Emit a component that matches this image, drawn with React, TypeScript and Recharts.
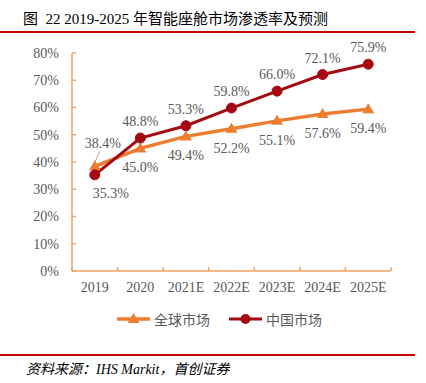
import { LineChart, Line, XAxis, YAxis, LabelList } from 'recharts'

// categories and values
const years = ['2019', '2020', '2021E', '2022E', '2023E', '2024E', '2025E']
const globalRate = [38.4, 45.0, 49.4, 52.2, 55.1, 57.6, 59.4]
const chinaRate = [35.3, 48.8, 53.3, 59.8, 66.0, 72.1, 75.9]
const yTicks = [0, 10, 20, 30, 40, 50, 60, 70, 80]

const COLORS = {
  global: '#ED7D31',
  china: '#A50A12',
  axis: '#F0A46A',
  text: '#595959',
  rule: '#C00000'
}

const FONT = "'Liberation Serif', 'Noto Sans CJK SC', serif"
const BAND = (391 - 72) / years.length

const data = years.map((year, i) => ({
  year,
  global: globalRate[i],
  china: chinaRate[i]
}))

const Triangle = (props: any) => {
  const { cx, cy } = props
  if (cx == null || cy == null) return null
  return (
    <path
      d={`M${cx},${cy - 6} L${cx + 6},${cy + 4} L${cx - 6},${cy + 4} Z`}
      fill={COLORS.global}
    />
  )
}

// category label in the middle of the band, tick marks on band edges
const XTick = (props: any) => {
  const { x, y, payload, index } = props
  const half = BAND / 2
  return (
    <g>
      <line x1={x - half} y1={y} x2={x - half} y2={y - 4} stroke={COLORS.axis} strokeWidth={1.5} />
      {index === years.length - 1 && (
        <line x1={x + half} y1={y} x2={x + half} y2={y - 4} stroke={COLORS.axis} strokeWidth={1.5} />
      )}
      <text x={x} y={y + 21} textAnchor="middle" fill={COLORS.text} fontSize={14} fontFamily={FONT}>
        {payload.value}
      </text>
    </g>
  )
}

const pct = (v: any) => `${Number(v).toFixed(1)}%`

const GlobalLabel = (props: any) => {
  const { x, y, value, index } = props
  if (index === 0) {
    return (
      <g>
        <line x1={x + 5} y1={y - 15} x2={x} y2={y - 4} stroke="#A6A6A6" strokeWidth={1} />
        <text x={x + 8} y={y - 18} textAnchor="middle" fill={COLORS.text} fontSize={14} fontFamily={FONT}>
          {pct(value)}
        </text>
      </g>
    )
  }
  return (
    <text x={x} y={y + 24} textAnchor="middle" fill={COLORS.text} fontSize={14} fontFamily={FONT}>
      {pct(value)}
    </text>
  )
}

const ChinaLabel = (props: any) => {
  const { x, y, value, index } = props
  const dx = index === 0 ? 16 : 0
  const ty = index === 0 ? y + 23 : y - 12
  return (
    <text x={x + dx} y={ty} textAnchor="middle" fill={COLORS.text} fontSize={14} fontFamily={FONT}>
      {pct(value)}
    </text>
  )
}

export default function App() {
  return (
    <div
      style={{
        position: 'absolute',
        left: 0,
        top: 0,
        width: 426,
        height: 383,
        background: '#fff',
        fontFamily: FONT
      }}
    >
      <div
        style={{
          position: 'absolute',
          left: 23,
          top: 7,
          fontSize: 15,
          color: '#000',
          whiteSpace: 'nowrap'
        }}
      >
        图&nbsp;&nbsp;22 2019-2025 年智能座舱市场渗透率及预测
      </div>
      <div
        style={{
          position: 'absolute',
          left: 0,
          top: 31,
          width: 415,
          height: 2,
          background: COLORS.rule
        }}
      />

      <div style={{ position: 'absolute', left: 0, top: 0 }}>
        <LineChart
          width={426}
          height={310}
          data={data}
          margin={{ top: 53, right: 35, bottom: 9, left: 0 }}
        >
          <XAxis
            dataKey="year"
            scale="band"
            height={30}
            stroke={COLORS.axis}
            strokeWidth={1.5}
            tickLine={false}
            tickSize={0}
            tickMargin={0}
            interval={0}
            tick={<XTick />}
          />
          <YAxis
            width={72}
            domain={[0, 80]}
            ticks={yTicks}
            interval={0}
            stroke={COLORS.axis}
            strokeWidth={1.5}
            tickSize={-4}
            tickMargin={17}
            tickFormatter={(v) => `${v}%`}
            tick={{ fill: COLORS.text, fontSize: 14, fontFamily: FONT }}
          />
          <Line
            dataKey="global"
            name="全球市场"
            stroke={COLORS.global}
            strokeWidth={3.5}
            dot={<Triangle />}
            activeDot={false}
            isAnimationActive={false}
          >
            <LabelList dataKey="global" content={<GlobalLabel />} />
          </Line>
          <Line
            dataKey="china"
            name="中国市场"
            stroke={COLORS.china}
            strokeWidth={3}
            dot={{ r: 5, fill: COLORS.china, stroke: COLORS.china, strokeWidth: 1 }}
            activeDot={false}
            isAnimationActive={false}
          >
            <LabelList dataKey="china" content={<ChinaLabel />} />
          </Line>
        </LineChart>
      </div>

      {/* legend */}
      <div
        style={{
          position: 'absolute',
          left: 116,
          top: 309,
          display: 'flex',
          alignItems: 'center',
          fontSize: 14,
          color: COLORS.text,
          fontFamily: "'Noto Sans CJK SC', sans-serif"
        }}
      >
        <svg width={36} height={20}>
          <line x1={1} y1={10} x2={34} y2={10} stroke={COLORS.global} strokeWidth={3.5} />
          <path d="M17.5,4 L23.5,14 L11.5,14 Z" fill={COLORS.global} />
        </svg>
        <span style={{ marginLeft: 2 }}>全球市场</span>
        <svg width={36} height={20} style={{ marginLeft: 18 }}>
          <line x1={1} y1={10} x2={34} y2={10} stroke={COLORS.china} strokeWidth={3} />
          <circle cx={17.5} cy={10} r={5} fill={COLORS.china} />
        </svg>
        <span style={{ marginLeft: 2 }}>中国市场</span>
      </div>

      <div
        style={{
          position: 'absolute',
          left: 0,
          top: 354,
          width: 415,
          height: 1.5,
          background: COLORS.rule
        }}
      />
      <div
        style={{
          position: 'absolute',
          left: 26,
          top: 358,
          fontSize: 14,
          fontStyle: 'italic',
          color: '#000',
          whiteSpace: 'nowrap'
        }}
      >
        资料来源：IHS Markit，首创证券
      </div>
    </div>
  )
}
